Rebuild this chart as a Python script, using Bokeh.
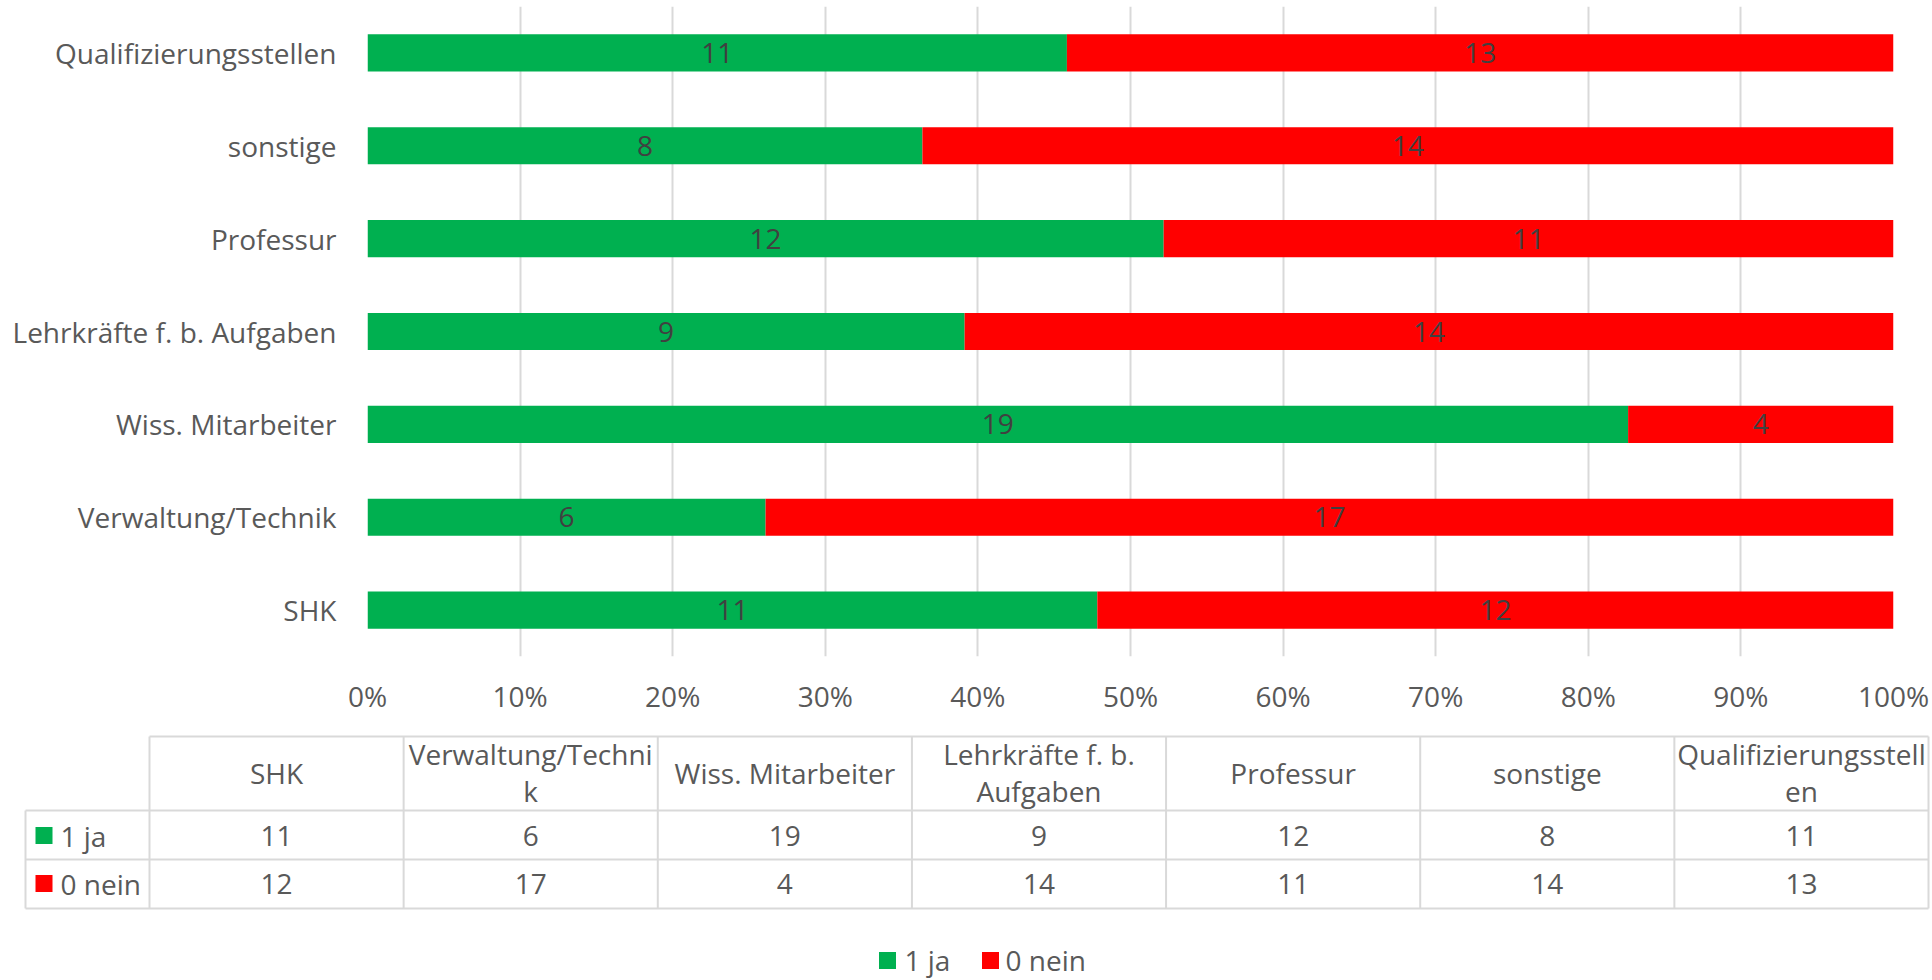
from bokeh.plotting import figure
from bokeh.models import Range1d, FactorRange, NumeralTickFormatter, FixedTicker, ColumnDataSource
from bokeh.embed import file_html
from bokeh.resources import INLINE
from bokeh.core.properties import value

# ---------------- data ----------------
categories = ["SHK", "Verwaltung/Technik", "Wiss. Mitarbeiter", "Lehrkräfte f. b. Aufgaben",
              "Professur", "sonstige", "Qualifizierungsstellen"]
ja = [11, 6, 19, 9, 12, 8, 11]
nein = [12, 17, 4, 14, 11, 14, 13]
series_names = ["1  ja", "0 nein"]
series_colors = ["#00B050", "#FF0000"]
table_headers = ["SHK", "Verwaltung/Techni\nk", "Wiss. Mitarbeiter", "Lehrkräfte f. b.\nAufgaben",
                 "Professur", "sonstige", "Qualifizierungsstell\nen"]
x_ticks = [0.0, 0.1, 0.2, 0.3, 0.4, 0.5, 0.6, 0.7, 0.8, 0.9, 1.0]

FONT = "Open Sans"
FS = "28px"
TXT = "#595959"
GRID = "#d9d9d9"

W = 1930
H1 = 727
H2 = 252

# ---------------- bar chart ----------------
tot = [a + b for a, b in zip(ja, nein)]
ja_p = [a / t for a, t in zip(ja, tot)]
nein_p = [b / t for b, t in zip(nein, tot)]
src = ColumnDataSource(dict(cat=categories, ja_p=ja_p, nein_p=nein_p))

p = figure(width=W, height=H1, y_range=FactorRange(factors=categories), x_range=Range1d(0, 1),
           output_backend="svg", toolbar_location=None,
           min_border_left=367, min_border_right=W - 1893, min_border_top=6,
           min_border_bottom=H1 - 656)
p.hbar_stack(["ja_p", "nein_p"], y="cat", height=0.4, color=series_colors, line_width=0, source=src)

lab_x = [v / 2 for v in ja_p] + [a + b / 2 for a, b in zip(ja_p, nein_p)]
lab_y = categories + categories
lab_t = [str(v) for v in ja] + [str(v) for v in nein]
p.text(x=lab_x, y=lab_y, text=lab_t, text_font=value(FONT), text_font_size=FS,
       text_color="#404040", text_align="center", text_baseline="middle")

p.xaxis.ticker = FixedTicker(ticks=x_ticks)
p.xaxis.formatter = NumeralTickFormatter(format="0%")
for ax in (p.xaxis, p.yaxis):
    ax.axis_line_color = None
    ax.major_tick_line_color = None
    ax.minor_tick_line_color = None
    ax.major_tick_out = 0
    ax.major_tick_in = 0
    ax.major_label_text_font = FONT
    ax.major_label_text_font_size = FS
    ax.major_label_text_color = TXT
p.xaxis.major_label_standoff = 20
p.yaxis.major_label_standoff = 31
p.ygrid.grid_line_color = None
p.xgrid.grid_line_color = GRID
p.xgrid.grid_line_width = 2
p.outline_line_color = None

# ---------------- data table + legend ----------------
X0 = 149.0            # px of first category column's left edge
CW = (1928 - 149) / 7  # column width in px


def px(v):
    return (v - X0) / CW


t = figure(width=W, height=H2, x_range=Range1d(px(0), px(W)), y_range=Range1d(H2, 0),
           output_backend="svg", toolbar_location=None,
           x_axis_location=None, y_axis_location=None,
           min_border_left=0, min_border_right=0, min_border_top=0, min_border_bottom=0)
t.xgrid.grid_line_color = None
t.ygrid.grid_line_color = None
t.outline_line_color = None

n = len(categories)
y_top, y_h, y_r1, y_r2 = 9, 83, 132, 181
hl = px(25)
hx0 = [0, hl, hl, hl]
hx1 = [n, n, n, n]
hy = [y_top, y_h, y_r1, y_r2]
t.segment(x0=hx0, y0=hy, x1=hx1, y1=hy, line_color=GRID, line_width=2)
vx = [hl] + list(range(n + 1))
vy0 = [y_h] + [y_top] * (n + 1)
vy1 = [y_r2] * (n + 2)
t.segment(x0=vx, y0=vy0, x1=vx, y1=vy1, line_color=GRID, line_width=2)

cx = [i + 0.5 for i in range(n)]
t.text(x=cx, y=[45] * n, text=table_headers, text_font=value(FONT), text_font_size=FS,
       text_color=TXT, text_align="center", text_baseline="middle", text_line_height=0.98)
t.text(x=cx, y=[108] * n, text=[str(v) for v in ja], text_font=value(FONT), text_font_size=FS,
       text_color=TXT, text_align="center", text_baseline="middle")
t.text(x=cx, y=[156] * n, text=[str(v) for v in nein], text_font=value(FONT), text_font_size=FS,
       text_color=TXT, text_align="center", text_baseline="middle")

# row keys
t.scatter(x=[px(43.5), px(43.5)], y=[108, 156], marker="square", size=17,
          color=series_colors, line_width=0)
t.text(x=[px(60), px(60)], y=[108, 156], text=series_names, text_font=value(FONT),
       text_font_size=FS, text_color=TXT, text_align="left", text_baseline="middle")

# bottom legend
t.scatter(x=[px(887), px(990)], y=[233, 233], marker="square", size=17,
          color=series_colors, line_width=0)
t.text(x=[px(904), px(1005)], y=[232, 232], text=series_names, text_font=value(FONT),
       text_font_size=FS, text_color=TXT, text_align="left", text_baseline="middle")

open("out.html", "w").write(file_html([p, t], INLINE))
